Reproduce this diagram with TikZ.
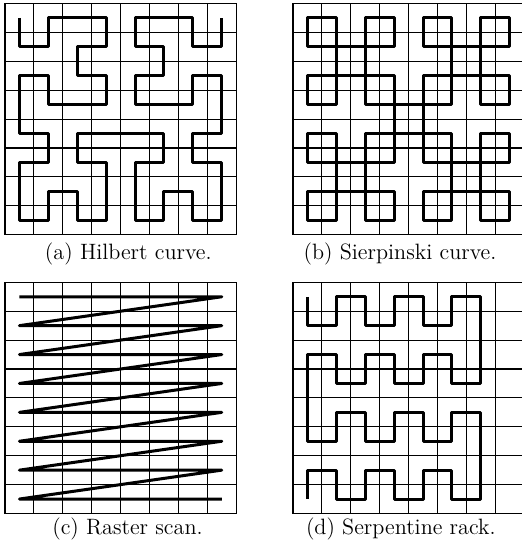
\documentclass[tikz,border=0pt]{standalone}
\begin{document}
\begin{tikzpicture}[x=0.5pt,y=-0.5pt,
  gridline/.style={line width=0.55pt,black,line cap=rect},
  curve/.style={line width=1.5pt,line join=round},
  captext/.style={anchor=base,font=\fontsize{11.1}{13}\selectfont,inner sep=0pt}]
\useasboundingbox (0,0) rectangle (522,545);
% ---------- (a) Hilbert curve ----------
\begin{scope}[shift={(5,3.5)},x=14.45pt,y=-14.45pt]
  \foreach \i in {0,...,8} {\draw[gridline] (\i,0) -- (\i,8); \draw[gridline] (0,\i) -- (8,\i);}
  \begin{scope}[shift={(0.5,0.5)}]
  \draw[curve] (0,0)--(0,1)--(1,1)--(1,0)--(3,0)--(3,1)--(2,1)--(2,2)--(3,2)--(3,3)--(1,3)--(1,2)--(0,2)--(0,4)--(1,4)--(1,5)--(0,5)--(0,7)--(1,7)--(1,6)--(2,6)--(2,7)--(3,7)--(3,5)--(2,5)--(2,4)--(5,4)--(5,5)--(4,5)--(4,7)--(5,7)--(5,6)--(6,6)--(6,7)--(7,7)--(7,5)--(6,5)--(6,4)--(7,4)--(7,2)--(6,2)--(6,3)--(4,3)--(4,2)--(5,2)--(5,1)--(4,1)--(4,0)--(6,0)--(6,1)--(7,1)--(7,0);
  \end{scope}
\end{scope}
% ---------- (b) Sierpinski curve ----------
\begin{scope}[shift={(293,3.5)},x=14.45pt,y=-14.45pt]
  \foreach \i in {0,...,8} {\draw[gridline] (\i,0) -- (\i,8); \draw[gridline] (0,\i) -- (8,\i);}
  \begin{scope}[shift={(0.5,0.5)}]
  \foreach \a in {0,2,4,6} \foreach \b in {0,2,4,6} {\draw[curve] (\a,\b) rectangle (\a+1,\b+1);}
  \foreach \a/\b in {1/1,5/1,1/5,5/5,3/3} {\draw[curve] (\a,\b) rectangle (\a+1,\b+1);}
  \end{scope}
\end{scope}
% ---------- (c) Raster scan ----------
\begin{scope}[shift={(5,282.3)},x=14.45pt,y=-14.45pt]
  \foreach \i in {0,...,8} {\draw[gridline] (\i,0) -- (\i,8); \draw[gridline] (0,\i) -- (8,\i);}
  \begin{scope}[shift={(0.5,0.5)}]
  \draw[curve] (0,0)--(7,0)--(0,1)--(7,1)--(0,2)--(7,2)--(0,3)--(7,3)--(0,4)--(7,4)--(0,5)--(7,5)--(0,6)--(7,6)--(0,7)--(7,7);
  \end{scope}
\end{scope}
% ---------- (d) Serpentine rack ----------
\begin{scope}[shift={(293,282.3)},x=14.45pt,y=-14.45pt]
  \foreach \i in {0,...,8} {\draw[gridline] (\i,0) -- (\i,8); \draw[gridline] (0,\i) -- (8,\i);}
  \begin{scope}[shift={(0.5,0.5)}]
  \draw[curve] (0,0)--(0,1)--(1,1)--(1,0)--(2,0)--(2,1)--(3,1)--(3,0)--(4,0)--(4,1)--(5,1)--(5,0)--(6,0)--(6,3)--(5,3)--(5,2)--(4,2)--(4,3)--(3,3)--(3,2)--(2,2)--(2,3)--(1,3)--(1,2)--(0,2)--(0,5)--(1,5)--(1,4)--(2,4)--(2,5)--(3,5)--(3,4)--(4,4)--(4,5)--(5,5)--(5,4)--(6,4)--(6,7)--(5,7)--(5,6)--(4,6)--(4,7)--(3,7)--(3,6)--(2,6)--(2,7)--(1,7)--(1,6)--(0,6)--(0,7);
  \end{scope}
\end{scope}
% ---------- captions ----------
\node[captext] (capA) at (128.3,259.5) {(a) Hilbert curve.};
\node[captext] (capB) at (400,259.5) {(b) Sierpinski curve.};
\node[captext] (capC) at (127.5,534.5) {(c) Raster scan.};
\node[captext] (capD) at (400.8,534.5) {(d) Serpentine rack.};
\end{tikzpicture}
\end{document}
